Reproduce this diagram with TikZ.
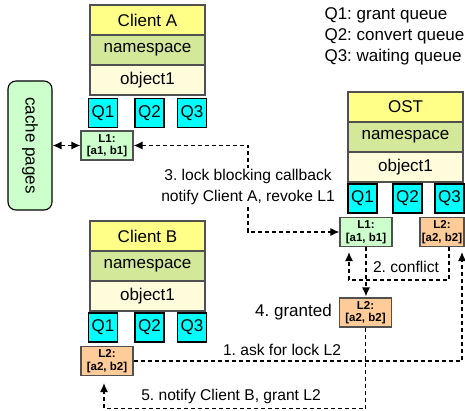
\documentclass[tikz,border=0pt]{standalone}
\usepackage{fontspec}
\setmainfont{Liberation Sans}
\usetikzlibrary{arrows.meta}
\frenchspacing
\definecolor{cyel}{HTML}{FFFF88}
\definecolor{cns}{HTML}{D4E89A}
\definecolor{cobj}{HTML}{FFFCDC}
\definecolor{cgreen}{HTML}{CCFFCC}
\definecolor{corange}{HTML}{FFCC99}
\definecolor{cq}{HTML}{00FFFF}
\definecolor{cborder}{HTML}{505050}
\tikzset{
  big/.style={font=\fontsize{17}{21}\selectfont},
  stackbox/.style={draw=cborder, line width=1.1pt, minimum width=115pt, minimum height=30pt, inner sep=0pt, big},
  qbox/.style={draw=black, line width=1.1pt, fill=cq, minimum width=29pt, minimum height=29pt, inner sep=0pt, big},
  lockbox/.style={draw=cborder, line width=1.1pt, minimum width=52pt, minimum height=29pt, inner sep=0pt, align=center, font=\fontsize{11.5}{12.5}\selectfont\bfseries},
  conn/.style={line width=1.2pt, dash pattern=on 4pt off 3pt, -{Latex[length=9pt,width=8pt]}},
  lbl/.style={font=\fontsize{15.6}{21}\selectfont, inner sep=1pt},
}
\begin{document}
\begin{tikzpicture}[x=1pt,y=-1pt]
\useasboundingbox (0,0) rectangle (465,411);
% legend
\node[big, anchor=west, align=left] (legend) at (321,36) {Q1: grant queue\\Q2: convert queue\\Q3: waiting queue};
% cache pages
\node[draw=black, line width=1.1pt, fill=cgreen, rounded corners=8pt, minimum width=44pt, minimum height=129pt, inner sep=0pt] (cache) at (30,145.5) {};
\node[big, rotate=-90] (cachetxt) at (cache.center) {cache pages};
% Client A
\node[stackbox, fill=cyel] (cA) at (147.5,20) {Client A};
\node[stackbox, fill=cns] (nsA) at (147.5,50) {namespace};
\node[stackbox, fill=cobj] (obA) at (147.5,80) {object1};
\node[qbox] (qA1) at (103,113) {Q1};
\node[qbox] (qA2) at (149.5,113) {Q2};
\node[qbox] (qA3) at (192,113) {Q3};
\node[lockbox, fill=cgreen] (L1A) at (107,145.5) {L1:\\{}[a1, b1]};
% Client B
\node[stackbox, fill=cyel] (cB) at (147.5,236) {Client B};
\node[stackbox, fill=cns] (nsB) at (147.5,266) {namespace};
\node[stackbox, fill=cobj] (obB) at (147.5,296) {object1};
\node[qbox] (qB1) at (103,327.5) {Q1};
\node[qbox] (qB2) at (149.5,327.5) {Q2};
\node[qbox] (qB3) at (192,327.5) {Q3};
\node[lockbox, fill=corange] (L2B) at (107,361) {L2:\\{}[a2, b2]};
% OST
\node[stackbox, fill=cyel] (ost) at (405.5,107) {OST};
\node[stackbox, fill=cns] (nsO) at (405.5,137) {namespace};
\node[stackbox, fill=cobj] (obO) at (405.5,167) {object1};
\node[qbox] (qO1) at (362.5,198.5) {Q1};
\node[qbox] (qO2) at (407.5,198.5) {Q2};
\node[qbox] (qO3) at (449.5,198.5) {Q3};
\node[lockbox, fill=cgreen] (L1O) at (366,232) {L1:\\{}[a1, b1]};
\node[lockbox, fill=corange, minimum width=44pt] (L2R) at (442,232) {L2:\\{}[a2, b2]};
\node[lockbox, fill=corange] (L2G) at (365.5,312.5) {L2:\\{}[a2, b2]};
% connectors
\draw[conn, {Latex[length=9pt,width=8pt]}-{Latex[length=9pt,width=8pt]}] (cache.east |- L1A.west) -- (L1A.west);
\coordinate (cbx) at (248,0);
\draw[conn, {Latex[length=9pt,width=8pt]}-{Latex[length=9pt,width=8pt]}] (L1A.east) -| (cbx |- L1O.west) -- (L1O.west);
\node[lbl, fill=white, align=center] (cbl) at (248,187) {3. lock blocking callback\\notify Client A, revoke L1};
\coordinate (askx) at (462,0);
\draw[conn, shorten >=5pt] (L2B.east) -- (L2B.east -| askx) -- (askx |- L2R.south);
\node[lbl] (askl) at (282,350) {1. ask for lock L2};
\draw[conn, shorten >=5pt] ([xshift=7pt]L2R.south) -- ++(0,33) -| ([xshift=-17pt]L1O.south);
\node[lbl] (cfl) at (406,267) {2. conflict};
\draw[conn, shorten >=1pt] (L1O.south) -- (L1O.south |- L2G.north);
\node[big, inner sep=1pt, anchor=east] (grl) at ([xshift=-6pt]L2G.west) {4. granted};
\draw[conn, shorten >=7pt] (L2G.south) -- ++(0,81) -| ([xshift=-3pt]L2B.south);
\node[lbl] (ntl) at (231,396) {5. notify Client B, grant L2};
\end{tikzpicture}
\end{document}
